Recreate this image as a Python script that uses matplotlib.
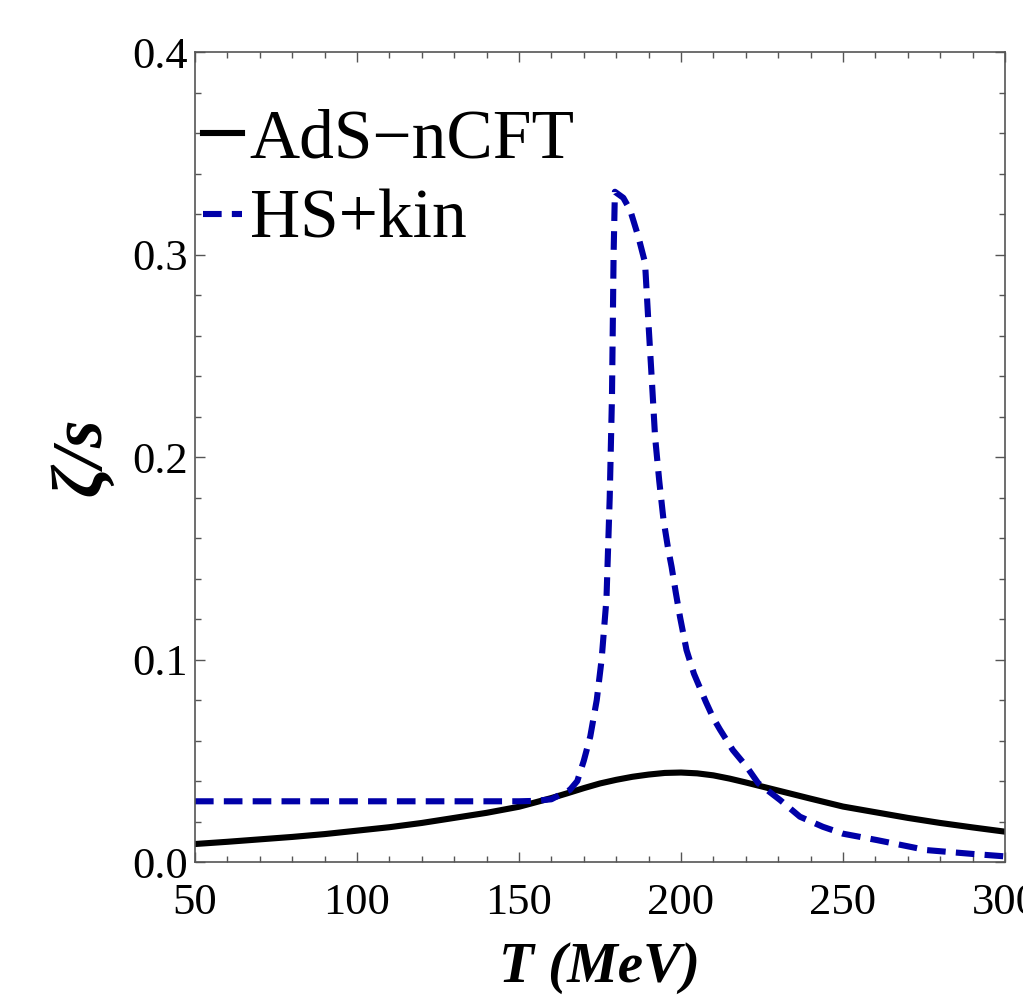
import matplotlib.pyplot as plt
from matplotlib.ticker import MultipleLocator, FormatStrFormatter

# AdS-nCFT (solid black)
T_ads = [50, 60, 70, 80, 90, 100, 110, 120, 130, 140, 150, 160, 165, 170, 175,
         180, 185, 190, 195, 200, 205, 210, 215, 220, 225, 230, 240, 250, 260,
         270, 280, 290, 300]
zs_ads = [0.0089, 0.0100, 0.0112, 0.0124, 0.0138, 0.0155, 0.0172, 0.0193,
          0.0218, 0.0243, 0.0273, 0.0316, 0.0340, 0.0365, 0.0388, 0.0406,
          0.0421, 0.0432, 0.0440, 0.0442, 0.0438, 0.0428, 0.0412, 0.0393,
          0.0373, 0.0353, 0.0313, 0.0274, 0.0246, 0.0218, 0.0193, 0.0171,
          0.0150]

# HS+kin (dashed blue)
T_hs = [50, 100, 150, 155, 160, 163.6, 165.7, 168, 170, 172, 174, 175.5, 177,
        178, 178.7, 179.2, 179.6, 182.2, 184.3, 186.8, 188.9, 189.9, 191, 192,
        193.3, 194.6, 196, 197.1, 198.4, 199.7, 201.7, 204, 207.7, 210, 212,
        216, 220.3, 223.8, 230.6, 236.7, 243.8, 250, 260.3, 275.8, 290, 300]
zs_hs = [0.030, 0.030, 0.030, 0.0302, 0.031, 0.034, 0.0356, 0.040, 0.050, 0.062,
         0.080, 0.100, 0.130, 0.180, 0.230, 0.300, 0.331, 0.328, 0.322, 0.309,
         0.296, 0.2677, 0.238, 0.210, 0.188, 0.169, 0.155, 0.1458, 0.133,
         0.121, 0.1047, 0.093, 0.079, 0.071, 0.0655, 0.0553, 0.047, 0.039,
         0.0306, 0.0224, 0.0174, 0.014, 0.0109, 0.0059, 0.0040, 0.0028]

plt.rcParams['font.family'] = ['Liberation Serif', 'DejaVu Serif']

fig = plt.figure(figsize=(10.23, 10.06), dpi=100)
ax = fig.add_axes([0.1906, 0.1431, 0.7918, 0.8052])

ax.plot(T_ads, zs_ads, color='black', lw=4.4, label='AdS\u2212nCFT',
        solid_joinstyle='round')
ax.plot(T_hs, zs_hs, color='#0000a8', lw=4.4, dashes=(3.05, 1.67),
        label='HS+kin')

ax.set_xlim(50, 300)
ax.set_ylim(0, 0.4)
ax.xaxis.set_major_locator(MultipleLocator(50))
ax.xaxis.set_minor_locator(MultipleLocator(10))
ax.yaxis.set_major_locator(MultipleLocator(0.1))
ax.yaxis.set_minor_locator(MultipleLocator(0.02))
ax.yaxis.set_major_formatter(FormatStrFormatter('%.1f'))

ax.tick_params(which='both', direction='in', top=True, right=True,
               color='#555555', width=1.0)
ax.tick_params(which='major', length=7.5, labelsize=32)
ax.tick_params(which='minor', length=4.5)
ax.tick_params(axis='x', which='major', pad=15)
ax.tick_params(axis='y', which='major', pad=5)
for sp in ax.spines.values():
    sp.set_color('#555555')
    sp.set_linewidth(1.2)

ax.set_xlabel('T (MeV)', fontsize=41, fontweight='bold', fontstyle='italic',
              labelpad=14)
ax.set_ylabel('\u03b6/s', fontsize=51, fontweight='bold', fontstyle='italic',
              labelpad=12)

leg = ax.legend(loc='upper left', bbox_to_anchor=(0.006, 0.934), fontsize=50,
                frameon=False, handlelength=0.55, handletextpad=0.12,
                borderpad=0, borderaxespad=0.05, labelspacing=0.24)

fig.savefig('out.png', dpi=100)
